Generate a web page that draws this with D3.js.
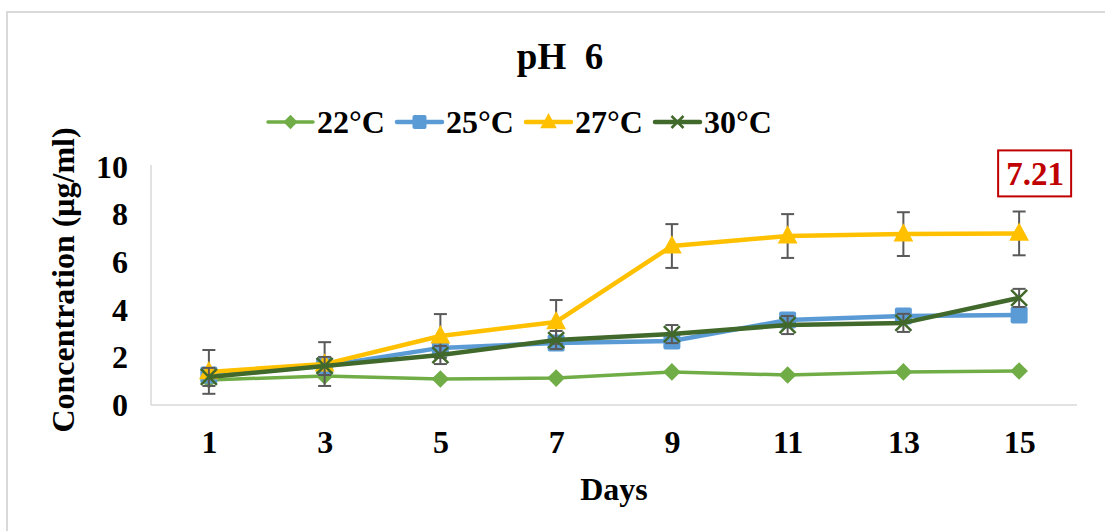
<!DOCTYPE html>
<html><head><meta charset="utf-8">
<script src="https://cdn.jsdelivr.net/npm/d3@7"></script>
<style>html,body{margin:0;padding:0;background:#fff;}svg{display:block;}</style>
</head><body>
<svg id="c" width="1105" height="531"></svg>
<script>
const days = ["1","3","5","7","9","11","13","15"];
const seriesNames = ["22°C","25°C","27°C","30°C"];
const v22 = [1.05,1.22,1.09,1.13,1.39,1.26,1.39,1.43];
const v25 = [1.26,1.64,2.40,2.60,2.69,3.57,3.74,3.78];
const v27 = [1.39,1.72,2.90,3.49,6.68,7.10,7.18,7.21];
const v30 = [1.18,1.64,2.10,2.73,2.98,3.36,3.45,4.50];
const err27 = [0.92,0.92,0.92,0.92,0.92,0.92,0.92,0.92];
const err30 = [0.38,0.38,0.38,0.38,0.38,0.38,0.38,0.38];
const yTicks = [0,2,4,6,8,10];
const title = "pH  6";
const xTitle = "Days";
const yTitle = "Concentration (μg/ml)";
const highlight = "7.21";

const colors = {"22°C":"#70AD47","25°C":"#5B9BD5","27°C":"#FFC000","30°C":"#41692B"};
const series = [
  {name:"22°C", values:v22, err:null, marker:"diamond", lw:3.5},
  {name:"25°C", values:v25, err:null, marker:"square", lw:4.5},
  {name:"27°C", values:v27, err:err27, marker:"triangle", lw:4.5},
  {name:"30°C", values:v30, err:err30, marker:"x", lw:4.5}
];

const svg = d3.select("#c");
const font = "'Liberation Serif','Times New Roman',serif";

svg.append("rect").attr("x",7).attr("y",12).attr("width",1110).attr("height",540)
  .attr("fill","none").attr("stroke","#d9d9d9").attr("stroke-width",2);

const L=151, R=1077, T=167, B=405;
const x = d3.scalePoint().domain(days).range([L,R]).padding(0.5);
const y = d3.scaleLinear().domain([0,10]).range([B,T]);

svg.append("line").attr("x1",L).attr("x2",L).attr("y1",T-2).attr("y2",B).attr("stroke","#d9d9d9").attr("stroke-width",1.5);
svg.append("line").attr("x1",L).attr("x2",R).attr("y1",B).attr("y2",B).attr("stroke","#d9d9d9").attr("stroke-width",1.5);

const yAxis = svg.append("g").attr("transform",`translate(${L},0)`)
  .call(d3.axisLeft(y).tickValues(yTicks).tickSize(0).tickPadding(23).tickFormat(d3.format("d")));
yAxis.select(".domain").remove();
yAxis.selectAll("text").attr("font-family",font).attr("font-weight","bold").attr("font-size",32).attr("fill","#000");

const xAxis = svg.append("g").attr("transform",`translate(0,${B})`)
  .call(d3.axisBottom(x).tickSize(0).tickPadding(25));
xAxis.select(".domain").remove();
xAxis.selectAll("text").attr("font-family",font).attr("font-weight","bold").attr("font-size",32).attr("fill","#000");

svg.append("text").attr("x",560).attr("y",69).attr("text-anchor","middle")
  .attr("font-family",font).attr("font-weight","bold").attr("font-size",37).style("white-space","pre").text(title);
svg.append("text").attr("x",614).attr("y",500).attr("text-anchor","middle")
  .attr("font-family",font).attr("font-weight","bold").attr("font-size",32).text(xTitle);
svg.append("text").attr("transform","translate(74,280) rotate(-90)").attr("text-anchor","middle")
  .attr("font-family",font).attr("font-weight","bold").attr("font-size",32).text(yTitle);

function drawMarker(g, type, cx, cy, color, size){
  if(type==="diamond"){
    const s=size*0.55;
    g.append("path").attr("d",`M${cx},${cy-s}L${cx+s},${cy}L${cx},${cy+s}L${cx-s},${cy}Z`).attr("fill",color);
  } else if(type==="square"){
    const s=size*0.5;
    g.append("rect").attr("x",cx-s).attr("y",cy-s).attr("width",2*s).attr("height",2*s).attr("rx",2).attr("fill",color);
  } else if(type==="triangle"){
    const s=size*0.55;
    g.append("path").attr("d",`M${cx},${cy-s*1.1}L${cx+s},${cy+s*0.75}L${cx-s},${cy+s*0.75}Z`).attr("fill",color);
  } else if(type==="x"){
    const s=size*0.5;
    g.append("path").attr("d",`M${cx-s},${cy-s}L${cx+s},${cy+s}M${cx-s},${cy+s}L${cx+s},${cy-s}`)
      .attr("stroke",color).attr("stroke-width",2.5).attr("fill","none");
  }
}
const plotSize = {diamond:16, square:17, triangle:18, x:16};
const legSize = {diamond:13, square:14, triangle:15, x:12};

const line = d3.line().x((d,i)=>x(days[i])).y(d=>y(d));

series.forEach(s=>{
  const g = svg.append("g");
  const c = colors[s.name];
  if(s.err){
    s.values.forEach((v,i)=>{
      const cx=x(days[i]), y1=y(v+s.err[i]), y2=y(v-s.err[i]);
      g.append("line").attr("x1",cx).attr("x2",cx).attr("y1",y1).attr("y2",y2).attr("stroke","#595959").attr("stroke-width",2);
      [y1,y2].forEach(yy=>g.append("line").attr("x1",cx-6.5).attr("x2",cx+6.5).attr("y1",yy).attr("y2",yy).attr("stroke","#595959").attr("stroke-width",2));
    });
  }
  g.append("path").datum(s.values).attr("d",line).attr("fill","none").attr("stroke",c)
    .attr("stroke-width",s.lw).attr("stroke-linejoin","round");
  s.values.forEach((v,i)=>drawMarker(g,s.marker,x(days[i]),y(v),c,plotSize[s.marker]));
});

const lx = x(days[7]), ly = y(v27[7]);
svg.append("rect").attr("x",lx-21).attr("y",ly-83).attr("width",73).attr("height",46)
  .attr("fill","#fff").attr("stroke","#C00000").attr("stroke-width",2);
svg.append("text").attr("x",lx+16).attr("y",ly-48).attr("text-anchor","middle")
  .attr("font-family",font).attr("font-weight","bold").attr("font-size",33).attr("fill","#C00000").text(highlight);

const legX = [268,397,526,655];
seriesNames.forEach((n,i)=>{
  const s = series[i];
  const g = svg.append("g");
  const ly2 = 122;
  g.append("line").attr("x1",legX[i]).attr("x2",legX[i]+45).attr("y1",ly2).attr("y2",ly2)
    .attr("stroke",colors[n]).attr("stroke-width",s.lw).attr("stroke-linecap","round");
  drawMarker(g,s.marker,legX[i]+22.5,ly2,colors[n],legSize[s.marker]);
  g.append("text").attr("x",legX[i]+49).attr("y",ly2+11).attr("font-family",font).attr("font-weight","bold")
    .attr("font-size",32).attr("fill","#000").text(n);
});
</script>
</body></html>
